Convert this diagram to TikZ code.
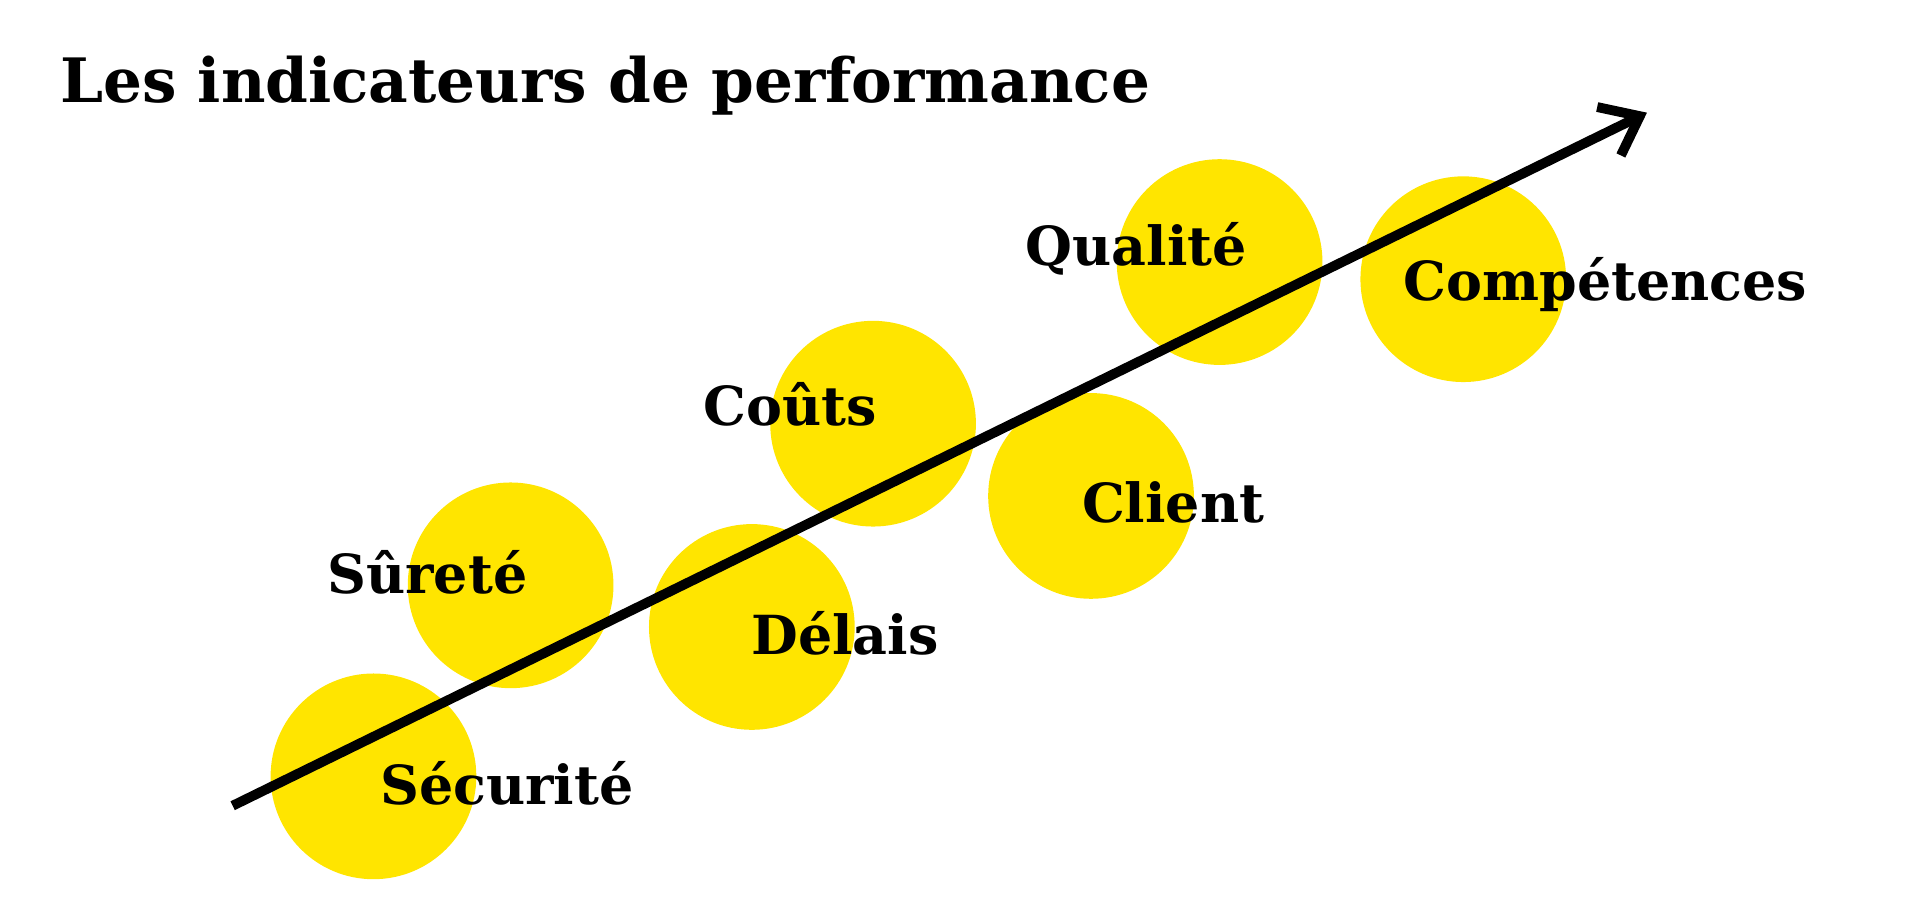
\documentclass[tikz,border=0pt]{standalone}
\usepackage{fontspec}
\setmainfont{DejaVu Serif}
\usetikzlibrary{arrows.meta}
\definecolor{jaune}{HTML}{FFE500}
\begin{document}
\begin{tikzpicture}[x=0.5pt, y=-0.5pt, >={Straight Barb[length=14pt,width=22pt]}]
		\useasboundingbox (0,0) rectangle (1568,752);
		\tikzset{
			rond/.style={circle, fill=jaune, minimum size=84pt, inner sep=0pt},
			etiquette/.style={font=\fontsize{22}{24}\selectfont\bfseries}
		}
		
		% Titre
		\node [anchor=west, font=\fontsize{25}{28}\selectfont\bfseries] (titre) at (42,70) {Les indicateurs de performance};
		
		% Disques jaunes
		\foreach \n/\x/\y in {secu/305/634, sure/417/478, delai/614/512, cout/713/346, client/891/405, qual/996/214, comp/1195/228}
		\node [rond] (rond-\n) at (\x,\y) {};
		
		% Fleche
		\coordinate (depart) at (190,658);
		\coordinate (arrivee) at (1345,92);
		\draw [->, line width=4pt] (depart) -- (arrivee);
		
		% Etiquettes
		\foreach \n/\x/\y/\t in {secu/414/640/Sécurité, sure/349/467/Sûreté, delai/690/517/Délais, cout/645/330/Coûts, client/958/410/Client, qual/928/203/Qualité, comp/1311/232/Compétences}
		\node [etiquette] (texte-\n) at (\x,\y) {\t};
		
	\end{tikzpicture}
\end{document}
